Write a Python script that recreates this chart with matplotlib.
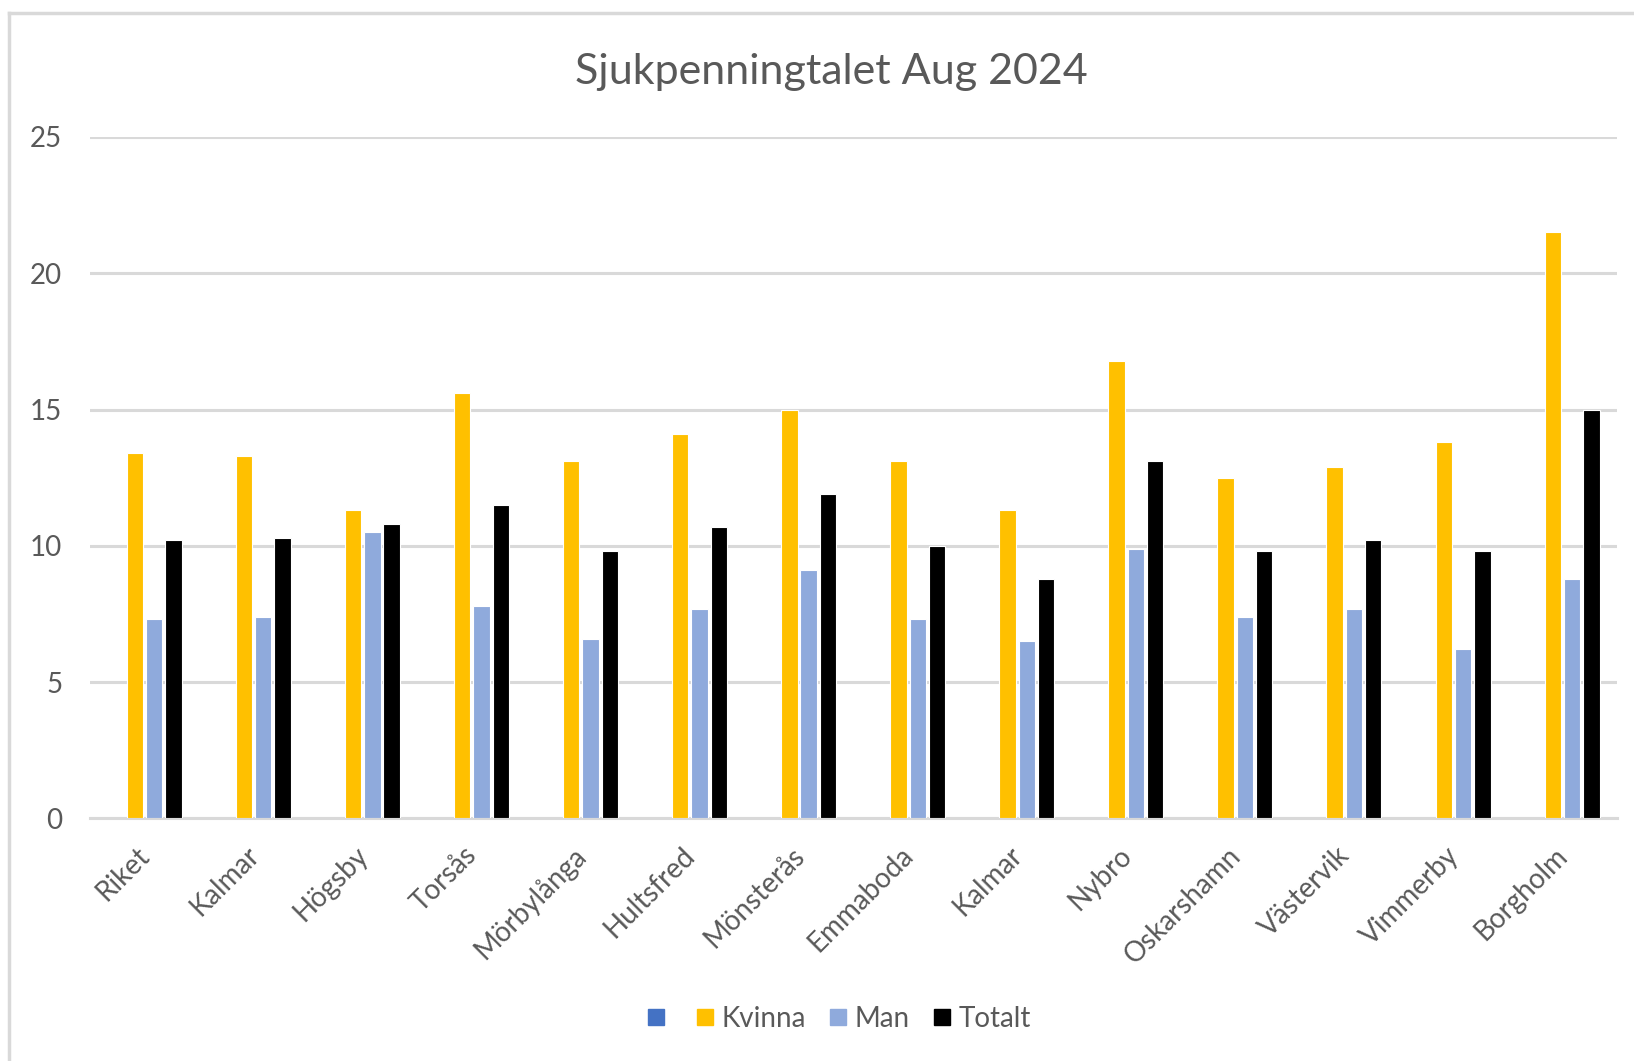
import numpy as np
import matplotlib
matplotlib.use("Agg")
import matplotlib.pyplot as plt
from matplotlib.lines import Line2D
from matplotlib.transforms import ScaledTranslation

# data
categories = ["Riket", "Kalmar", "Högsby", "Torsås", "Mörbylånga", "Hultsfred",
              "Mönsterås", "Emmaboda", "Kalmar", "Nybro", "Oskarshamn",
              "Västervik", "Vimmerby", "Borgholm"]
kvinna = [13.4, 13.3, 11.3, 15.6, 13.1, 14.1, 15.0, 13.1, 11.3, 16.8, 12.5, 12.9, 13.8, 21.5]
man = [7.3, 7.4, 10.5, 7.8, 6.6, 7.7, 9.1, 7.3, 6.5, 9.9, 7.4, 7.7, 6.2, 8.8]
totalt = [10.2, 10.3, 10.8, 11.5, 9.8, 10.7, 11.9, 10.0, 8.8, 13.1, 9.8, 10.2, 9.8, 15.0]
series_names = ["", "Kvinna", "Man", "Totalt"]
series_colors = ["#4472C4", "#FFC000", "#8FAADC", "#000000"]

plt.rcParams['font.family'] = ['Lato', 'DejaVu Sans']
text_color = "#595959"
grid_color = "#D9D9D9"

fig = plt.figure(figsize=(16.34, 10.61), dpi=100)
ax = fig.add_axes([0.0551, 0.2286, 0.9345, 0.6423])

x = np.arange(len(categories))
pitch = 0.177
width = 0.15
# first series is empty in the source sheet, it only keeps its slot
all_values = [None, kvinna, man, totalt]
for i, (name, vals, col) in enumerate(zip(series_names, all_values, series_colors)):
    if vals is None:
        continue
    ax.bar(x + (i - 1.5) * pitch, vals, width=width, color=col,
           edgecolor="white", linewidth=0.8, zorder=3)

ax.set_xlim(-0.5, len(categories) - 0.5)
ax.set_ylim(0, 25)
ax.set_yticks([0, 5, 10, 15, 20, 25])
ax.yaxis.grid(True, color=grid_color, linewidth=2.2, zorder=0)
ax.set_axisbelow(True)
for s in ["left", "right", "top"]:
    ax.spines[s].set_visible(False)
ax.spines["bottom"].set_color(grid_color)
ax.spines["bottom"].set_linewidth(2.2)

ax.tick_params(axis="y", length=0, pad=20, labelsize=20, labelcolor=text_color)
ax.tick_params(axis="x", length=0, pad=17, labelsize=20, labelcolor=text_color)
ax.set_xticks(x)
ax.set_xticklabels(categories, rotation=45, ha="right", rotation_mode="anchor")
for lbl in ax.get_xticklabels():
    lbl.set_transform(lbl.get_transform() + ScaledTranslation(-0.08, 0, fig.dpi_scale_trans))

fig.text(0.509, 0.932, "Sjukpenningtalet Aug 2024", ha="center", va="center",
         fontsize=31, color=text_color)

handles = [Line2D([], [], marker="s", linestyle="none", markersize=12,
                  markerfacecolor=c, markeredgecolor=c) for c in series_colors]
fig.legend(handles, series_names, loc="center", bbox_to_anchor=(0.512, 0.04),
           ncol=4, frameon=False, fontsize=20, labelcolor=text_color,
           handletextpad=0.1, columnspacing=0.65, handlelength=1.0)

# chart area border (cut off at right and bottom in the source)
fig.add_artist(Line2D([9 / 1634, 1.0], [1 - 13 / 1061] * 2, color=grid_color,
                      linewidth=2.5, transform=fig.transFigure))
fig.add_artist(Line2D([9 / 1634] * 2, [0.0, 1 - 13 / 1061], color=grid_color,
                      linewidth=2.5, transform=fig.transFigure))

fig.savefig("out.png", dpi=100, facecolor="white")
